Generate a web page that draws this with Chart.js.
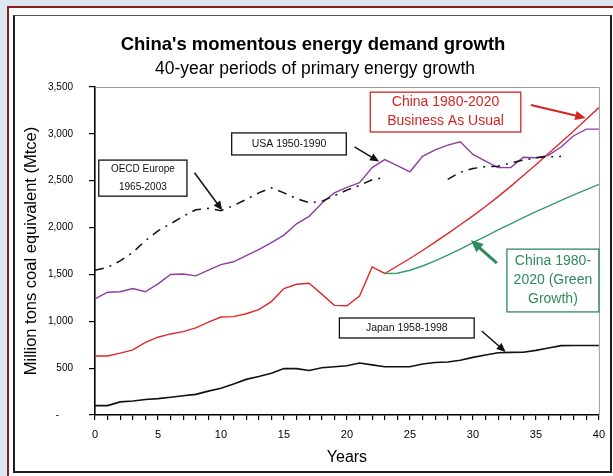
<!DOCTYPE html>
<html>
<head>
<meta charset="utf-8">
<script src="https://cdn.jsdelivr.net/npm/chart.js@4.4.1/dist/chart.umd.min.js"></script>
<style>
html, body { margin: 0; padding: 0; }
body { width: 613px; height: 476px; background: #dbe8f1; position: relative; overflow: hidden; }
#outer { position: absolute; left: 7px; top: 6px; right: 0; bottom: 0; background: #fff;
         border-left: 2px solid #8e1b1b; border-top: 2px solid #8e1b1b; }
#inner { position: absolute; left: 13px; top: 15px; width: 599px; height: 458px; box-sizing: border-box;
         border: 2px solid #1e1e1e; border-top: 1px solid #555; background: #fff; }
#chart { position: absolute; left: 0; top: 0; }
</style>
</head>
<body>
<div id="outer"></div>
<div id="inner"></div>
<canvas id="chart" width="613" height="476"></canvas>
<script>
// Años transcurridos desde el inicio de cada periodo de 40 años
var years = [0, 1, 2, 3, 4, 5, 6, 7, 8, 9, 10, 11, 12, 13, 14, 15, 16, 17, 18, 19, 20,
             21, 22, 23, 24, 25, 26, 27, 28, 29, 30, 31, 32, 33, 34, 35, 36, 37, 38, 39, 40];

// Mtce por serie
var usa = [1240, 1310, 1315, 1350, 1315, 1400, 1500, 1505, 1485, 1545, 1605, 1635, 1700, 1765,
           1840, 1920, 2040, 2120, 2260, 2370, 2430, 2480, 2640, 2725, 2660, 2595, 2760, 2830,
           2880, 2915, 2780, 2710, 2640, 2640, 2750, 2745, 2770, 2860, 2980, 3050, 3050];
var oecdEurope = [1545, 1575, 1645, 1735, 1860, 1965, 2040, 2120, 2190, 2205, 2180, 2235, 2300,
                  2370, 2425, 2370, 2310, 2265, 2280, 2340, 2400, 2450, 2510, 2535, null, null,
                  null, null, 2515, 2590, 2630, 2650, 2655, 2690, 2720, 2745, 2755, 2760, null,
                  null, null];
var chinaBau = [630, 630, 660, 695, 775, 830, 865, 890, 930, 990, 1045, 1050, 1080, 1125, 1210,
                1350, 1395, 1405, 1290, 1170, 1165, 1270, 1580, 1510, 1590, 1670, 1755, 1845,
                1935, 2030, 2125, 2225, 2330, 2440, 2555, 2670, 2790, 2910, 3030, 3155, 3280];
var chinaGreen = [null, null, null, null, null, null, null, null, null, null, null, null, null,
                  null, null, null, null, null, null, null, null, null, null, 1510, 1512, 1545,
                  1590, 1645, 1705, 1770, 1840, 1905, 1975, 2040, 2105, 2170, 2230, 2290, 2350,
                  2405, 2460];
var japan = [100, 100, 140, 150, 165, 175, 190, 205, 220, 255, 285, 330, 380, 410, 445, 495, 495,
             475, 505, 515, 525, 555, 535, 515, 515, 515, 545, 560, 565, 585, 615, 640, 665, 668,
             670, 690, 715, 740, 742, 742, 742];

var FONT = '"Liberation Sans", Arial, sans-serif';

// Cuadros de texto con flecha, en coordenadas de la gráfica (año, Mtce)
var notes = [
    { lines: ['OECD Europe', '1965-2003'], box: [0.3, 2720, 7.3, 2335], color: '#111',
      size: 10, arrow: [7.9, 2585, 10.1, 2185], arrowWidth: 1.5, lineGap: 18 },
    { lines: ['USA 1950-1990'], box: [10.85, 3010, 19.95, 2775], color: '#111',
      size: 10.5, arrow: [20.6, 2860, 22.55, 2705], arrowWidth: 1.5, lineGap: 0 },
    { lines: ['China 1980-2020', 'Business As Usual'], box: [21.85, 3445, 33.8, 3020], color: '#d42424',
      size: 14, arrow: [34.6, 3308, 38.95, 3170], arrowWidth: 2.2, lineGap: 19 },
    { lines: ['China 1980-', '2020 (Green', 'Growth)'], box: [32.7, 1770, 40, 1100], color: '#2f8a5c',
      size: 14, arrow: [31.9, 1620, 29.85, 1865], arrowWidth: 3, lineGap: 19 },
    { lines: ['Japan 1958-1998'], box: [19.4, 1035, 30.1, 822], color: '#111',
      size: 10.5, arrow: [30.7, 896, 32.6, 672], arrowWidth: 1.5, lineGap: 0 }
];

function drawArrow(ctx, x1, y1, x2, y2, color, width) {
    var ang = Math.atan2(y2 - y1, x2 - x1);
    var head = 6 + width * 2;
    var half = 2.5 + width;
    ctx.save();
    ctx.strokeStyle = color;
    ctx.fillStyle = color;
    ctx.lineWidth = width;
    ctx.beginPath();
    ctx.moveTo(x1, y1);
    ctx.lineTo(x2 - Math.cos(ang) * head * 0.8, y2 - Math.sin(ang) * head * 0.8);
    ctx.stroke();
    ctx.beginPath();
    ctx.moveTo(x2, y2);
    ctx.lineTo(x2 - Math.cos(ang) * head + Math.sin(ang) * half,
               y2 - Math.sin(ang) * head - Math.cos(ang) * half);
    ctx.lineTo(x2 - Math.cos(ang) * head - Math.sin(ang) * half,
               y2 - Math.sin(ang) * head + Math.cos(ang) * half);
    ctx.closePath();
    ctx.fill();
    ctx.restore();
}

var decorPlugin = {
    id: 'decor',
    beforeDatasetsDraw: function (chart) {
        // Marco gris superior y derecho del área de trazado
        var ctx = chart.ctx, a = chart.chartArea;
        ctx.save();
        ctx.strokeStyle = '#9a9a9a';
        ctx.lineWidth = 1;
        ctx.beginPath();
        ctx.moveTo(a.left, a.top + 0.5);
        ctx.lineTo(a.right + 0.5, a.top + 0.5);
        ctx.lineTo(a.right + 0.5, a.bottom);
        ctx.stroke();
        ctx.restore();
    },
    afterDraw: function (chart) {
        var ctx = chart.ctx;
        var x = chart.scales.x, y = chart.scales.y;

        ctx.save();
        ctx.fillStyle = '#000';
        ctx.textAlign = 'center';
        ctx.textBaseline = 'middle';
        ctx.font = 'bold 18.5px ' + FONT;
        ctx.fillText("China's momentous energy demand growth", 313, 45);
        ctx.font = '17.5px ' + FONT;
        ctx.fillText('40-year periods of primary energy growth', 315, 69);
        ctx.restore();

        notes.forEach(function (n) {
            var bx1 = x.getPixelForValue(n.box[0]), by1 = y.getPixelForValue(n.box[1]);
            var bx2 = x.getPixelForValue(n.box[2]), by2 = y.getPixelForValue(n.box[3]);
            ctx.save();
            ctx.fillStyle = '#fff';
            ctx.fillRect(bx1, by1, bx2 - bx1, by2 - by1);
            ctx.strokeStyle = n.color;
            ctx.lineWidth = 1.3;
            ctx.strokeRect(bx1, by1, bx2 - bx1, by2 - by1);
            ctx.fillStyle = n.color;
            ctx.font = n.size + 'px ' + FONT;
            ctx.textAlign = 'center';
            ctx.textBaseline = 'middle';
            var cx = (bx1 + bx2) / 2, cy = (by1 + by2) / 2;
            var start = cy - (n.lines.length - 1) * n.lineGap / 2;
            n.lines.forEach(function (t, i) {
                ctx.fillText(t, cx, start + i * n.lineGap);
            });
            ctx.restore();
            drawArrow(ctx, x.getPixelForValue(n.arrow[0]), y.getPixelForValue(n.arrow[1]),
                      x.getPixelForValue(n.arrow[2]), y.getPixelForValue(n.arrow[3]),
                      n.color, n.arrowWidth);
        });
    }
};

function line(data, color, width, dash) {
    return {
        data: data,
        borderColor: color,
        borderWidth: width,
        borderDash: dash || [],
        pointRadius: 0,
        tension: 0,
        fill: false,
        spanGaps: false
    };
}

var chart = new Chart(document.getElementById('chart').getContext('2d'), {
    type: 'line',
    data: {
        labels: years,
        datasets: [
            line(oecdEurope, '#111', 1.5, [9, 6, 2, 6]),
            line(japan, '#111', 1.6),
            line(usa, '#8b3fa0', 1.4),
            line(chinaGreen, '#3a9a6a', 1.4),
            line(chinaBau, '#dc2a2a', 1.4)
        ]
    },
    options: {
        responsive: false,
        animation: false,
        devicePixelRatio: 1,
        layout: { padding: { top: 87, right: 13, left: 0, bottom: 0 } },
        plugins: {
            legend: { display: false },
            tooltip: { enabled: false },
            title: { display: false }
        },
        scales: {
            x: {
                type: 'category',
                offset: false,
                afterFit: function (s) { s.height = 61; },
                grid: { drawOnChartArea: false, drawTicks: true, tickLength: 5, tickColor: '#000', lineWidth: 1.2 },
                border: { display: true, color: '#000', width: 1.6 },
                ticks: {
                    autoSkip: false, maxRotation: 0, padding: 8, color: '#000',
                    font: { family: FONT, size: 11 },
                    callback: function (v, i) { return i % 5 === 0 ? String(years[i]) : ''; }
                },
                title: {
                    display: true, text: 'Years', color: '#000',
                    font: { family: FONT, size: 16 }, padding: { top: 0, bottom: 9 }
                }
            },
            y: {
                min: 0, max: 3500,
                afterFit: function (s) { s.width = 95; },
                grid: { drawOnChartArea: false, drawTicks: true, tickLength: 6, tickColor: '#000', lineWidth: 1.2 },
                border: { display: true, color: '#000', width: 1.6 },
                ticks: {
                    stepSize: 500, padding: 16, color: '#000',
                    font: { family: FONT, size: 10 },
                    callback: function (v) { return v === 0 ? '-     ' : v.toLocaleString('en-US'); }
                },
                title: {
                    display: true, text: 'Million tons coal equivalent (Mtce)', color: '#000',
                    font: { family: FONT, size: 16.5 }, padding: { top: 22, bottom: 0 }
                }
            }
        }
    },
    plugins: [decorPlugin]
});
</script>
</body>
</html>
